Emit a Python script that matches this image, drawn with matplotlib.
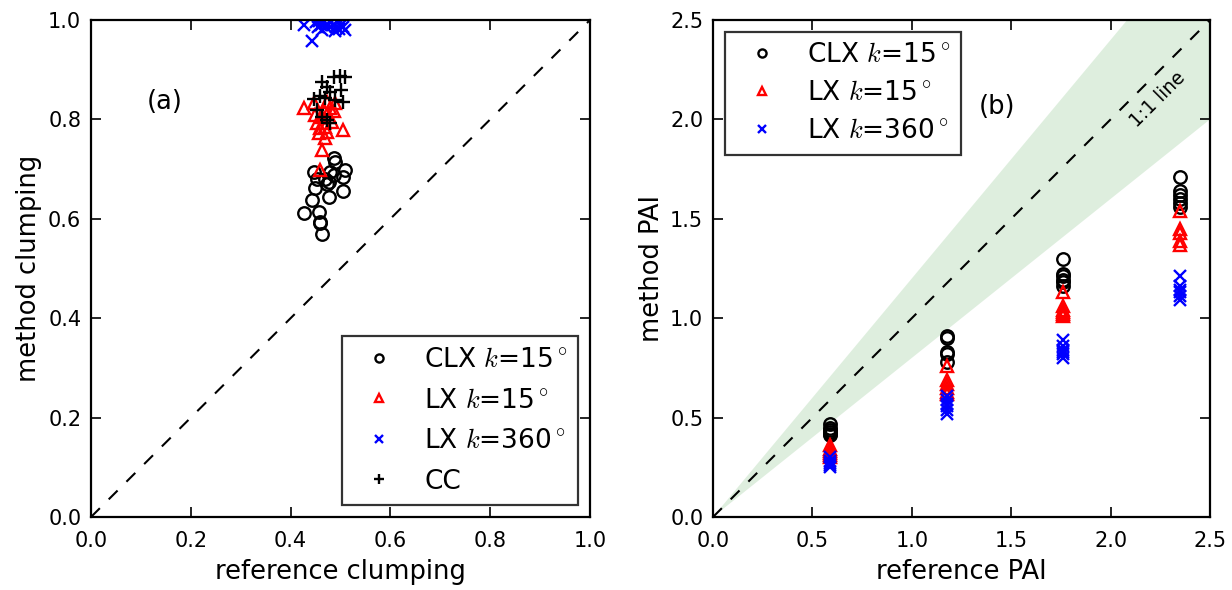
import numpy as np
import matplotlib
matplotlib.use("Agg")
import matplotlib.pyplot as plt

plt.rcParams['font.family'] = ['DejaVu Sans']
plt.rcParams['mathtext.fontset'] = 'cm'

# ---------------- Panel (a) data ----------------
clx_ref = [0.486, 0.489, 0.509, 0.446, 0.479, 0.486, 0.506, 0.452, 0.469, 0.476,
           0.449, 0.472, 0.476, 0.506, 0.442, 0.426, 0.456, 0.459, 0.459, 0.462]
clx_met = [0.722, 0.715, 0.698, 0.695, 0.695, 0.688, 0.685, 0.681, 0.681, 0.675,
           0.661, 0.671, 0.644, 0.655, 0.638, 0.611, 0.614, 0.594, 0.591, 0.569]

lx15_ref = [0.426, 0.446, 0.472, 0.489, 0.479, 0.466, 0.486, 0.449, 0.462, 0.452,
            0.466, 0.459, 0.472, 0.456, 0.469, 0.506, 0.462, 0.458, 0.476, 0.482, 0.469]
lx15_met = [0.822, 0.832, 0.836, 0.834, 0.822, 0.819, 0.816, 0.809, 0.805, 0.792,
            0.792, 0.782, 0.775, 0.772, 0.762, 0.779, 0.738, 0.698, 0.805, 0.795, 0.785]

lx360_ref = [0.426, 0.442, 0.450, 0.455, 0.460, 0.465, 0.470, 0.475, 0.480, 0.485,
             0.490, 0.495, 0.500, 0.505, 0.509, 0.462, 0.478, 0.488, 0.457, 0.497]
lx360_met = [0.990, 0.958, 0.995, 0.985, 0.990, 0.995, 0.985, 0.990, 0.995, 0.990,
             0.985, 0.995, 0.990, 0.985, 0.980, 0.980, 0.998, 0.978, 0.997, 0.982]

cc_ref = [0.486, 0.499, 0.509, 0.462, 0.472, 0.502, 0.479, 0.446, 0.459, 0.469,
          0.506, 0.489, 0.452, 0.462, 0.472, 0.479]
cc_met = [0.886, 0.887, 0.886, 0.876, 0.866, 0.859, 0.856, 0.842, 0.847, 0.844,
          0.836, 0.839, 0.819, 0.805, 0.799, 0.792]

# ---------------- Panel (b) data ----------------
pai_levels = [0.588, 1.175, 1.762, 2.35]
pai_clx = [[0.47, 0.45, 0.44, 0.43, 0.42, 0.41],
           [0.91, 0.90, 0.83, 0.82, 0.78],
           [1.30, 1.22, 1.21, 1.19, 1.18, 1.16],
           [1.71, 1.64, 1.62, 1.60, 1.58, 1.56]]
pai_lx15 = [[0.36, 0.34, 0.33, 0.32, 0.31, 0.30],
            [0.76, 0.69, 0.67, 0.65, 0.63, 0.62],
            [1.13, 1.06, 1.04, 1.03, 1.02, 1.01],
            [1.54, 1.45, 1.43, 1.39, 1.37]]
pai_lx360 = [[0.30, 0.28, 0.27, 0.26, 0.25],
             [0.61, 0.59, 0.57, 0.56, 0.54, 0.52],
             [0.89, 0.86, 0.84, 0.83, 0.82, 0.80],
             [1.21, 1.16, 1.14, 1.13, 1.11, 1.09]]

band_lo, band_hi = 0.8, 1.2

lab_clx = r'CLX $k$=15$^\circ$'
lab_lx15 = r'LX $k$=15$^\circ$'
lab_lx360 = r'LX $k$=360$^\circ$'
lab_cc = 'CC'

TICK_FS = 15
LAB_FS = 18.5
LEG_FS = 19

fig = plt.figure(figsize=(12.32, 5.90), dpi=100)
axa = fig.add_axes([91/1232, 73/590, 499/1232, 497/590])
axb = fig.add_axes([713/1232, 73/590, 497/1232, 497/590])

ms = 9
mew = 1.7

def style(ax):
    for s in ax.spines.values():
        s.set_linewidth(1.6)
    ax.tick_params(direction='in', top=True, right=True, length=7, width=1.2,
                   labelsize=TICK_FS)
    ax.tick_params(axis='x', pad=10)
    ax.tick_params(axis='y', pad=7)

# Panel (a)
axa.plot([0, 1], [0, 1], color='k', lw=1.5, dashes=(6, 6))
axa.plot(clx_ref, clx_met, 'o', ls='none', mfc='none', mec='k', ms=ms, mew=mew, label=lab_clx)
axa.plot(lx15_ref, lx15_met, '^', ls='none', mfc='none', mec='r', ms=ms, mew=mew, label=lab_lx15)
axa.plot(lx360_ref, lx360_met, 'x', ls='none', color='b', ms=ms, mew=mew, label=lab_lx360)
axa.plot(cc_ref, cc_met, '+', ls='none', color='k', ms=ms + 1, mew=mew, label=lab_cc)
axa.set_xlim(0, 1)
axa.set_ylim(0, 1)
axa.set_xticks(np.arange(0, 1.01, 0.2))
axa.set_yticks(np.arange(0, 1.01, 0.2))
axa.set_xticklabels(['0.0', '0.2', '0.4', '0.6', '0.8', '1.0'])
axa.set_yticklabels(['0.0', '0.2', '0.4', '0.6', '0.8', '1.0'])
axa.set_xlabel('reference clumping', fontsize=LAB_FS, labelpad=6)
axa.set_ylabel('method clumping', fontsize=LAB_FS)
axa.text(0.148, 0.835, '(a)', fontsize=LAB_FS, ha='center', va='center')
style(axa)
lega = axa.legend(loc='lower right', fontsize=LEG_FS, numpoints=1, fancybox=False,
                  markerscale=0.65, borderaxespad=0.45, labelspacing=0.55,
                  handletextpad=0.7)
lega.get_frame().set_edgecolor('k')
lega.get_frame().set_linewidth(1.6)

# Panel (b)
xs = np.array([0, 2.5])
axb.fill_between(xs, xs * band_lo, xs * band_hi, color='g', alpha=0.13, lw=0)
axb.plot(xs, xs, color='k', lw=1.5, dashes=(6, 6))
for i, lvl in enumerate(pai_levels):
    axb.plot([lvl] * len(pai_clx[i]), pai_clx[i], 'o', ls='none', mfc='none', mec='k',
             ms=ms, mew=mew, label=lab_clx if i == 0 else None)
    axb.plot([lvl] * len(pai_lx15[i]), pai_lx15[i], '^', ls='none', mfc='none', mec='r',
             ms=ms, mew=mew, label=lab_lx15 if i == 0 else None)
    axb.plot([lvl] * len(pai_lx360[i]), pai_lx360[i], 'x', ls='none', color='b',
             ms=ms, mew=mew, label=lab_lx360 if i == 0 else None)
axb.set_xlim(0, 2.5)
axb.set_ylim(0, 2.5)
axb.set_xticks(np.arange(0, 2.51, 0.5))
axb.set_yticks(np.arange(0, 2.51, 0.5))
axb.set_xticklabels(['0.0', '0.5', '1.0', '1.5', '2.0', '2.5'])
axb.set_yticklabels(['0.0', '0.5', '1.0', '1.5', '2.0', '2.5'])
axb.set_xlabel('reference PAI', fontsize=LAB_FS, labelpad=6)
axb.set_ylabel('method PAI', fontsize=LAB_FS)
axb.text(1.43, 2.06, '(b)', fontsize=LAB_FS, ha='center', va='center')
axb.text(2.235, 2.10, '1:1 line', fontsize=13.5, ha='center', va='center', rotation=45)
style(axb)
legb = axb.legend(loc='upper left', fontsize=LEG_FS, numpoints=1, fancybox=False,
                  markerscale=0.65, borderaxespad=0.45, labelspacing=0.45,
                  handletextpad=0.7)
legb.get_frame().set_edgecolor('k')
legb.get_frame().set_linewidth(1.6)

fig.savefig('out.png', dpi=100)
